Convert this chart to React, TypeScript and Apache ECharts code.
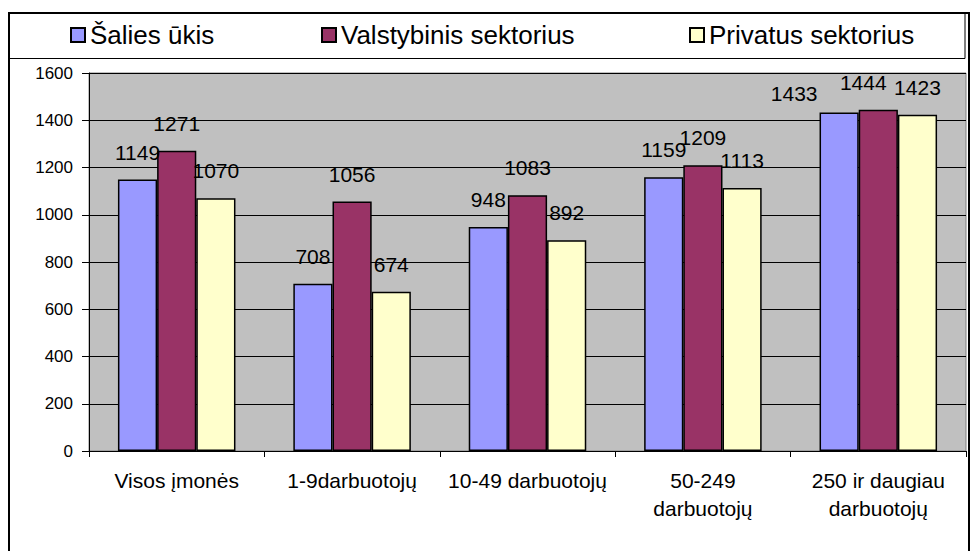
import React, { useEffect, useRef } from "react";
import * as echarts from "echarts";

const CATEGORIES = [
  "Visos įmonės",
  "1-9darbuotojų",
  "10-49 darbuotojų",
  "50-249\ndarbuotojų",
  "250 ir daugiau\ndarbuotojų",
];
const SERIES_NAMES = ["Šalies ūkis", "Valstybinis sektorius", "Privatus sektorius"];
const SALIES_UKIS = [1149, 708, 948, 1159, 1433];
const VALSTYBINIS = [1271, 1056, 1083, 1209, 1444];
const PRIVATUS = [1070, 674, 892, 1113, 1423];
const Y_MIN = 0;
const Y_MAX = 1600;
const Y_STEP = 200;

const COLORS = ["#9999FF", "#993366", "#FFFFCC"];
const LEGEND_LEFT = [70, 321, 689];
// label nudges (series index, category index) -> [dx, dy]
const LABEL_NUDGE: Record<string, [number, number]> = {
  "0-4": [-45, 9],
  "1-4": [-15, 0],
};

const FONT = "'Liberation Sans', Arial, sans-serif";

export default function App() {
  const ref = useRef<HTMLDivElement>(null);

  useEffect(() => {
    if (!ref.current) return;
    const chart = echarts.init(ref.current, null, { renderer: "svg" });
    const allValues = [SALIES_UKIS, VALSTYBINIS, PRIVATUS];

    const series = allValues.map((vals, si) => ({
      name: SERIES_NAMES[si],
      type: "bar",
      barGap: "0%",
      barCategoryGap: "33%",
      itemStyle: { color: COLORS[si], borderColor: "#000", borderWidth: 1.5 },
      label: {
        show: true,
        position: "top",
        distance: 17,
        color: "#000",
        fontSize: 21,
        fontFamily: FONT,
      },
      data: vals.map((v, ci) => {
        const nudge = LABEL_NUDGE[`${si}-${ci}`];
        return nudge ? { value: v, label: { offset: nudge } } : v;
      }),
    }));

    chart.setOption({
      animation: false,
      backgroundColor: "#fff",
      textStyle: { fontFamily: FONT },
      legend: SERIES_NAMES.map((n, i) => ({
        data: [n],
        left: LEGEND_LEFT[i],
        top: 22,
        padding: 0,
        icon: "rect",
        itemWidth: 14,
        itemHeight: 14,
        textStyle: { fontSize: 26, color: "#000", fontFamily: FONT },
        selectedMode: false,
      })),
      grid: {
        left: 89,
        right: 4,
        top: 73,
        bottom: 100,
        show: true,
        backgroundColor: "#C0C0C0",
        borderColor: "#808080",
        borderWidth: 1,
      },
      xAxis: {
        type: "category",
        data: CATEGORIES,
        axisLine: { lineStyle: { color: "#000", width: 1 } },
        axisTick: { show: true, length: 6, lineStyle: { color: "#000" } },
        axisLabel: {
          color: "#000",
          fontSize: 21,
          lineHeight: 27.5,
          margin: 16,
          interval: 0,
          fontFamily: FONT,
        },
      },
      yAxis: {
        type: "value",
        min: Y_MIN,
        max: Y_MAX,
        interval: Y_STEP,
        axisLine: { show: true, lineStyle: { color: "#000", width: 1 } },
        axisTick: { show: true, length: 7, lineStyle: { color: "#000" } },
        axisLabel: {
          color: "#000",
          fontSize: 17,
          margin: 16,
          fontFamily: FONT,
          formatter: (v: number) => String(v),
        },
        splitLine: { show: true, lineStyle: { color: "#000", width: 1 } },
      },
      graphic: [
        {
          type: "rect",
          shape: { x: 9, y: 13, width: 956, height: 45.5 },
          style: { fill: "none", stroke: "#000", lineWidth: 1 },
          silent: true,
          z: 100,
        },
        {
          type: "rect",
          shape: { x: 9, y: 13, width: 960, height: 600 },
          style: { fill: "none", stroke: "#000", lineWidth: 2 },
          silent: true,
          z: 101,
        },
      ],
      series,
    });

    return () => chart.dispose();
  }, []);

  return (
    <div
      ref={ref}
      style={{ position: "absolute", left: 0, top: 0, width: 970, height: 551 }}
    />
  );
}
